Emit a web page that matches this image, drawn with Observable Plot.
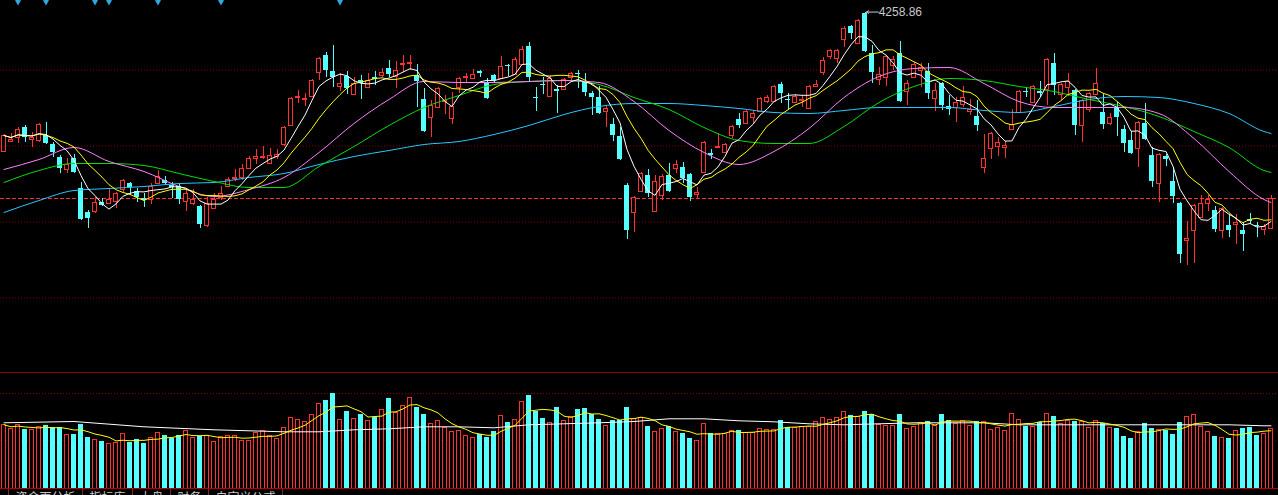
<!DOCTYPE html>
<html>
<head>
<meta charset="utf-8">
<script src="https://cdn.jsdelivr.net/npm/d3@7"></script>
<script src="https://cdn.jsdelivr.net/npm/@observablehq/plot@0.6"></script>
<style>
html, body { margin: 0; padding: 0; background: #000; width: 1278px; height: 495px; overflow: hidden; }
#price { position: absolute; left: 0; top: 0; }
#sep { position: absolute; left: 0; top: 372px; width: 1278px; height: 1px; background: #900000; }
#vol { position: absolute; left: 0; top: 373px; }
#tabs { position: absolute; left: 0; top: 488px; width: 1278px; height: 30px; border-top: 1px solid #b40000; display: flex; font: 12px "Noto Sans CJK SC", sans-serif; color: #c8c8c8; line-height: 14px; }
#tabs div { border-left: 1px solid #7a3030; text-align: center; padding-top: 1px; box-sizing: border-box; }
#tabs div.pad { border-left: none; width: 8px; }
#tabs div.end { width: 40px; }
svg { display: block; }
</style>
</head>
<body>
<div id="price"></div>
<div id="sep"></div>
<div id="vol"></div>
<div id="tabs"></div>
<script>
// ---- candle data (index points) ----
const opens = [3980,4000,4008,4028,4004,4002,4012,3994,3968,3944,3966,3906,3858,3860,3878,3876,3880,3904,3916,3900,3886,3884,3916,3922,3912,3910,3880,3876,3870,3832,3866,3888,3910,3926,3928,3946,3966,3968,3956,3970,3994,4032,4088,4084,4090,4138,4172,4140,4110,4130,4094,4122,4108,4128,4132,4146,4130,4154,4156,4132,4084,4048,4068,4080,4046,4108,4128,4126,4140,4118,4132,4126,4152,4134,4154,4190,4088,4114,4090,4104,4104,4128,4136,4118,4096,4088,4060,4034,4010,3912,3858,3900,3932,3860,3892,3932,3946,3948,3934,3894,3938,3976,3988,3978,4012,4044,4036,4048,4060,4080,4080,4114,4084,4078,4082,4066,4110,4138,4170,4166,4204,4230,4196,4256,4176,4124,4128,4152,4176,4100,4128,4142,4140,4086,4116,4070,4068,4074,4060,4050,3948,3986,3990,3988,4024,4058,4100,4078,4100,4104,4156,4094,4108,4102,4032,4064,4094,4058,4036,4066,4024,4002,3986,4036,3972,3916,3970,3920,3876,3802,3822,3848,3876,3862,3822,3832,3834,3822,3844,3832,3824,3826];
const highs = [4014,4016,4028,4032,4018,4036,4038,3998,3972,3966,3974,3918,3862,3888,3886,3904,3898,3924,3918,3906,3896,3916,3942,3930,3918,3916,3902,3904,3872,3888,3896,3910,3928,3944,3954,3970,3984,3990,3986,3984,4030,4088,4102,4096,4124,4168,4178,4192,4136,4140,4128,4132,4136,4140,4146,4162,4160,4172,4172,4154,4106,4082,4108,4092,4098,4128,4136,4144,4142,4126,4134,4170,4154,4168,4190,4198,4108,4128,4132,4112,4126,4138,4142,4136,4100,4110,4070,4046,4028,3916,3890,3938,3944,3932,3934,3956,3962,3958,3936,3908,4000,3984,4016,3996,4032,4056,4062,4062,4088,4092,4112,4118,4096,4094,4092,4112,4122,4168,4184,4184,4230,4232,4244,4258.86,4192,4148,4172,4170,4200,4122,4158,4156,4156,4116,4118,4092,4088,4110,4084,4082,4014,4018,4008,4000,4064,4102,4108,4112,4120,4166,4176,4116,4136,4104,4084,4098,4146,4094,4056,4078,4032,4020,4040,4076,3988,3976,3974,3948,3878,3840,3874,3892,3892,3870,3868,3852,3854,3838,3856,3838,3834,3892];
const lows = [3978,3998,3996,3998,3988,3998,3994,3968,3936,3936,3936,3842,3826,3856,3870,3874,3866,3898,3892,3878,3868,3874,3914,3912,3886,3874,3860,3872,3826,3828,3864,3882,3908,3920,3922,3944,3954,3964,3954,3964,3990,4030,4076,4070,4088,4122,4128,4108,4100,4094,4092,4084,4106,4112,4128,4128,4106,4138,4142,4068,4018,4008,4066,4054,4034,4096,4118,4124,4128,4084,4116,4124,4130,4132,4152,4118,4060,4094,4088,4056,4102,4122,4106,4090,4052,4054,4028,4000,3962,3804,3818,3898,3888,3858,3882,3898,3936,3916,3880,3886,3936,3964,3986,3976,4006,4026,4034,4036,4058,4076,4078,4076,4064,4076,4068,4064,4108,4132,4164,4156,4188,4204,4194,4178,4116,4112,4110,4142,4078,4072,4126,4108,4084,4060,4062,4052,4038,4068,4052,4020,3936,3964,3970,3966,4022,4056,4088,4076,4088,4072,4092,4082,4090,4012,3998,4058,4092,4024,4032,4010,3978,3974,3948,4002,3908,3878,3950,3876,3756,3752,3756,3846,3860,3818,3806,3808,3794,3780,3834,3808,3812,3824];
const closes = [4012,4004,4024,4008,4008,4034,3996,3978,3946,3954,3938,3844,3846,3878,3872,3884,3896,3922,3908,3888,3882,3910,3930,3916,3908,3884,3896,3884,3834,3876,3884,3896,3924,3928,3946,3966,3970,3970,3972,3974,4028,4086,4090,4086,4122,4166,4142,4128,4116,4106,4116,4116,4122,4124,4138,4134,4142,4156,4158,4120,4020,4072,4106,4082,4070,4126,4130,4134,4136,4086,4122,4150,4150,4164,4184,4128,4086,4112,4126,4100,4124,4136,4134,4098,4088,4056,4066,4012,3964,3822,3888,3936,3896,3920,3930,3900,3954,3926,3888,3898,3998,3972,3990,3994,4030,4032,4060,4056,4086,4088,4110,4096,4082,4090,4084,4110,4114,4162,4182,4182,4226,4216,4242,4180,4138,4134,4170,4164,4080,4116,4154,4148,4096,4102,4072,4064,4078,4088,4064,4032,3966,4016,3998,3992,4034,4100,4098,4110,4096,4164,4112,4114,4120,4032,4082,4096,4116,4034,4048,4048,3996,3976,4038,4004,3920,3974,3964,3890,3774,3806,3872,3876,3884,3824,3866,3822,3838,3814,3840,3830,3830,3886];
// ---- volume data ----
const volumes = [637,597,637,590,590,613,630,607,607,540,540,640,513,490,470,450,457,547,463,490,450,507,557,530,503,530,577,507,523,523,467,517,527,527,477,477,557,573,523,500,607,707,687,663,737,847,880,947,687,770,697,740,680,713,790,897,753,827,907,810,740,647,677,610,567,577,527,507,543,510,570,727,660,687,867,930,773,700,657,810,677,713,790,800,743,690,627,680,680,810,693,703,620,567,597,620,567,550,500,477,647,547,543,550,577,580,553,553,597,587,587,680,610,607,613,613,667,707,687,707,767,730,713,770,737,637,627,627,740,597,620,653,670,630,740,680,647,673,630,670,670,590,610,580,747,687,623,620,663,747,720,647,680,673,670,610,677,653,610,600,520,500,563,647,600,587,580,540,660,717,737,617,567,520,510,500,577,600,610,530,550,597];
const maIndex = [0,5,10,15,20,25,30,35,40,45,50,55,60,65,70,75,80,85,90,95,100,105,110,115,120,125,130,135,140,145,150,155,160,165,170,175,180,181];
const ma20 = [3944,3964,3988,3960,3940,3910,3890,3904,3928,3978,4036,4084,4120,4118,4118,4120,4122,4118,4080,4022,3978,3954,3980,4026,4088,4130,4146,4148,4116,4080,4068,4068,4068,4056,4006,3940,3884,3878];
const ma30 = [3918,3942,3956,3956,3952,3936,3920,3908,3908,3950,3990,4032,4068,4092,4114,4120,4122,4114,4088,4064,4028,4002,3996,3996,4030,4078,4110,4126,4122,4110,4100,4084,4070,4050,4020,3988,3942,3938];
const ma60 = [3858,3882,3902,3906,3910,3916,3918,3928,3936,3954,3970,3982,3994,4000,4014,4032,4054,4070,4076,4076,4072,4066,4058,4056,4062,4068,4068,4068,4062,4058,4070,4084,4090,4088,4076,4056,4020,4016];
const volMaIndex = [0,10,20,30,40,45,50,55,60,65,70,75,80,85,90,95,100,105,110,115,120,125,130,140,145,150,160,170,175,180,181];
const volMa = [657,670,617,587,567,567,587,597,617,617,607,637,647,657,670,697,697,677,667,647,637,647,657,657,637,637,637,637,637,627,627];
// ---- reference lines, markers, tabs ----
const priceGrid = [4143, 3991, 3839, 3687];
const volGrid = [950, 480];
const markerIndex = [2, 6, 13, 15, 22, 31, 48];
const tabLabels = ["资金面分析", "指标库", "大盘", "财务", "自定义公式"];
const tabWidths = [74, 50, 38, 38, 74];

const RED = "#ff3232", CYAN = "#54ffff";
const bars = opens.map((o, i) => ({i, open: o, high: highs[i], low: lows[i], close: closes[i], vol: volumes[i], up: closes[i] >= o}));
const upBars = bars.filter(d => d.up);
const dnBars = bars.filter(d => !d.up);
const series = (idx, vals) => idx.map((i, k) => ({i, v: vals[k]}));
const xDomain = [-0.5, 1278 / 7 - 0.5];
const maxHigh = d3.max(highs);
const hiIdx = highs.indexOf(maxHigh);
const hiPoint = [{i: hiIdx, h: maxHigh}];

const pricePlot = Plot.plot({
  width: 1278, height: 372, margin: 0,
  style: {background: "#000", overflow: "visible"},
  x: {domain: xDomain, axis: null},
  y: {domain: [3538, 4282], axis: null},
  marks: [
    Plot.ruleY(priceGrid, {stroke: "#8c0000", strokeDasharray: "1,2"}),
    Plot.ruleY([closes[closes.length - 1]], {stroke: "#ff3030", strokeDasharray: "4,2"}),
    Plot.ruleX(upBars, {x: "i", y1: "low", y2: "high", stroke: RED, shapeRendering: "crispEdges"}),
    Plot.ruleX(dnBars, {x: "i", y1: "low", y2: "high", stroke: CYAN, shapeRendering: "crispEdges"}),
    Plot.rect(upBars, {x1: d => d.i - 2 / 7, x2: d => d.i + 2 / 7, y1: "open", y2: "close", fill: "#000", stroke: RED, shapeRendering: "crispEdges"}),
    Plot.rect(dnBars, {x1: d => d.i - 2.5 / 7, x2: d => d.i + 2.5 / 7, y1: "open", y2: "close", fill: CYAN, shapeRendering: "crispEdges"}),
    Plot.line(series(maIndex, ma60), {x: "i", y: "v", stroke: "#28c8ff", strokeWidth: 1, curve: "monotone-x"}),
    Plot.line(series(maIndex, ma30), {x: "i", y: "v", stroke: "#00e000", strokeWidth: 1, curve: "monotone-x"}),
    Plot.line(series(maIndex, ma20), {x: "i", y: "v", stroke: "#ff80ff", strokeWidth: 1, curve: "monotone-x"}),
    Plot.lineY(bars, Plot.windowY({k: 10, anchor: "end"}, {x: "i", y: "close", stroke: "#ffff00", strokeWidth: 1})),
    Plot.lineY(bars, Plot.windowY({k: 5, anchor: "end"}, {x: "i", y: "close", stroke: "#ffffff", strokeWidth: 1})),
    Plot.arrow(hiPoint, {x1: d => d.i + 1.92, y1: "h", x2: d => d.i + 0.2, y2: "h", stroke: "#c8c8c8", strokeWidth: 1, headLength: 4}),
    Plot.text(hiPoint, {x: d => d.i + 1.95, y: "h", text: d => d.h.toFixed(2), textAnchor: "start", fill: "#c8c8c8", fontSize: 12, fontFamily: "'Liberation Sans', Arial, sans-serif"}),
    Plot.dot(markerIndex, {x: d => d, frameAnchor: "top", symbol: "diamond", r: 3, fill: "#30a8dc", stroke: null})
  ]
});
document.getElementById("price").appendChild(pricePlot);

const volPlot = Plot.plot({
  width: 1278, height: 116, marginTop: 20, marginBottom: 1, marginLeft: 0, marginRight: 0,
  style: {background: "#000"},
  x: {domain: xDomain, axis: null},
  y: {domain: [0, 950], axis: null},
  marks: [
    Plot.ruleY([volGrid[0]], {stroke: "#8c0000", strokeDasharray: "1,2"}),
    Plot.ruleY([volGrid[1]], {stroke: "#4a0000", strokeDasharray: "1,2"}),
    Plot.rect(upBars, {x1: d => d.i - 2 / 7, x2: d => d.i + 2 / 7, y1: 0, y2: "vol", fill: "#000", stroke: RED, shapeRendering: "crispEdges"}),
    Plot.rect(dnBars, {x1: d => d.i - 2.5 / 7, x2: d => d.i + 2.5 / 7, y1: 0, y2: "vol", fill: CYAN, shapeRendering: "crispEdges"}),
    Plot.line(series(volMaIndex, volMa), {x: "i", y: "v", stroke: "#ffffff", strokeWidth: 1}),
    Plot.lineY(bars, Plot.windowY({k: 5, anchor: "end"}, {x: "i", y: "vol", stroke: "#ffff00", strokeWidth: 1}))
  ]
});
document.getElementById("vol").appendChild(volPlot);

const tabs = document.getElementById("tabs");
const pad = document.createElement("div"); pad.className = "pad"; tabs.appendChild(pad);
tabLabels.forEach((t, k) => {
  const el = document.createElement("div");
  el.style.width = tabWidths[k] + "px";
  el.textContent = t;
  tabs.appendChild(el);
});
const end = document.createElement("div"); end.className = "end"; tabs.appendChild(end);
</script>
</body>
</html>
